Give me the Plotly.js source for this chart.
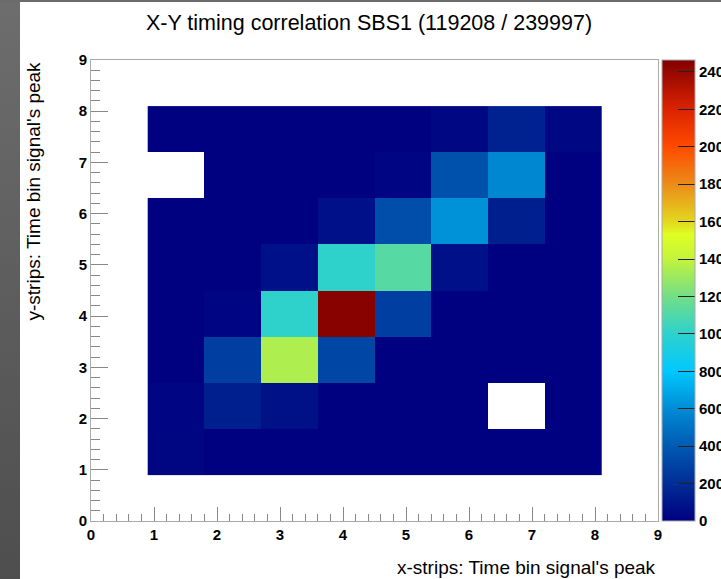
<!DOCTYPE html>
<html>
<head>
<meta charset="utf-8">
<script src="https://cdn.plot.ly/plotly-3.0.1.min.js"></script>
<style>
  html, body { margin: 0; padding: 0; background: #fff; }
  #chart {
    width: 721px; height: 579px;
    background:
      linear-gradient(#6b6b6b, #6b6b6b) left top / 100% 2px no-repeat,
      linear-gradient(to bottom, #6d6d6d, #4e4e4e) left top / 20px 100% no-repeat,
      #ffffff;
  }
</style>
</head>
<body>
<div id="chart"></div>
<script>
// Bin centers (bins of width 0.9 from 0.9 to 8.1)
const xCenters = [1.35, 2.25, 3.15, 4.05, 4.95, 5.85, 6.75, 7.65];
const yCenters = [1.35, 2.25, 3.15, 4.05, 4.95, 5.85, 6.75, 7.65];

// Counts, rows from bottom (y bin 1) to top (y bin 8); null = empty bin
const row1 = [20, 4, 4, 4, 4, 4, 4, 4];
const row2 = [25, 140, 75, 4, 4, 4, null, 4];
const row3 = [6, 275, 1350, 310, 4, 4, 4, 4];
const row4 = [6, 25, 1005, 2440, 280, 4, 4, 4];
const row5 = [6, 6, 70, 1005, 1120, 70, 4, 4];
const row6 = [4, 4, 4, 70, 340, 620, 140, 4];
const row7 = [null, 4, 4, 4, 25, 360, 580, 4];
const row8 = [4, 4, 4, 4, 4, 30, 150, 30];

const zMax = 2464;
const cbTicks = [0, 200, 400, 600, 800, 1000, 1200, 1400, 1600, 1800, 2000, 2200, 2400];

const titleText = "X-Y timing correlation SBS1 (119208 / 239997)";
const xTitle = "x-strips: Time bin signal's peak";
const yTitle = "y-strips: Time bin signal's peak";

const stops = [
  [0, 'rgb(0,0,128)'],
  [200, 'rgb(0,45,150)'],
  [400, 'rgb(0,90,178)'],
  [600, 'rgb(0,140,212)'],
  [800, 'rgb(0,200,255)'],
  [1000, 'rgb(45,210,205)'],
  [1200, 'rgb(115,222,135)'],
  [1400, 'rgb(195,243,60)'],
  [1530, 'rgb(222,255,35)'],
  [1600, 'rgb(228,215,30)'],
  [1800, 'rgb(235,140,25)'],
  [2000, 'rgb(255,75,0)'],
  [2200, 'rgb(220,35,0)'],
  [2464, 'rgb(128,0,0)']
];
const colorscale = stops.map(s => [s[0] / zMax, s[1]]);

const boldFont = {family: 'Liberation Sans, Arial, sans-serif', size: 15, color: '#000', weight: 'bold'};
const regFont = {family: 'Liberation Sans, Arial, sans-serif', size: 19, color: '#000'};

const trace = {
  type: 'heatmap',
  x: xCenters,
  y: yCenters,
  z: [row1, row2, row3, row4, row5, row6, row7, row8],
  zmin: 0,
  zmax: zMax,
  colorscale: colorscale,
  hoverongaps: false,
  colorbar: {
    x: 1.007, xanchor: 'left', xref: 'paper',
    y: 0.5, yanchor: 'middle',
    len: 1, lenmode: 'fraction',
    thickness: 33, thicknessmode: 'pixels',
    xpad: 0, ypad: 0,
    outlinecolor: '#aaa', outlinewidth: 1,
    ticks: 'inside', ticklen: 17, tickcolor: '#222', tickwidth: 1,
    tickvals: cbTicks,
    ticktext: cbTicks.map(String),
    tickfont: {family: 'Liberation Sans, Arial, sans-serif', size: 15, color: '#000', weight: 'bold'},
    ticklabelposition: 'outside'
  }
};

const layout = {
  width: 721, height: 579,
  margin: {l: 91, r: 63, t: 60, b: 58, pad: 0, autoexpand: false},
  paper_bgcolor: 'rgba(0,0,0,0)',
  plot_bgcolor: '#ffffff',
  showlegend: false,
  title: {
    text: titleText,
    x: 369 / 721, xref: 'container', xanchor: 'center',
    y: 1 - 22 / 579, yref: 'container', yanchor: 'middle',
    font: {family: 'Liberation Sans, Arial, sans-serif', size: 21.5, color: '#000'}
  },
  xaxis: {
    range: [0, 9], tick0: 0, dtick: 1,
    ticks: 'inside', ticklen: 14, tickcolor: '#888', tickwidth: 1,
    minor: {ticks: 'inside', ticklen: 7, dtick: 0.2, tick0: 0, tickcolor: '#888', tickwidth: 1, showgrid: false},
    showline: true, linecolor: '#aaa', linewidth: 1, mirror: true,
    showgrid: false, zeroline: false, automargin: false,
    tickfont: boldFont, fixedrange: true
  },
  yaxis: {
    range: [0, 9], tick0: 0, dtick: 1,
    ticks: 'inside', ticklen: 17, tickcolor: '#888', tickwidth: 1,
    minor: {ticks: 'inside', ticklen: 9, dtick: 0.2, tick0: 0, tickcolor: '#888', tickwidth: 1, showgrid: false},
    showline: true, linecolor: '#aaa', linewidth: 1, mirror: true,
    showgrid: false, zeroline: false, automargin: false,
    tickfont: boldFont, fixedrange: true
  },
  annotations: [
    {
      text: xTitle, xref: 'paper', yref: 'paper',
      x: 1, xanchor: 'right', y: 0, yanchor: 'middle', yshift: -46,
      showarrow: false, font: regFont
    },
    {
      text: yTitle, xref: 'paper', yref: 'paper', textangle: -90,
      x: (33 - 91) / 567, xanchor: 'center', y: 1, yanchor: 'top',
      showarrow: false, font: regFont
    }
  ]
};

Plotly.newPlot('chart', [trace], layout, {displayModeBar: false, staticPlot: true});
</script>
</body>
</html>
